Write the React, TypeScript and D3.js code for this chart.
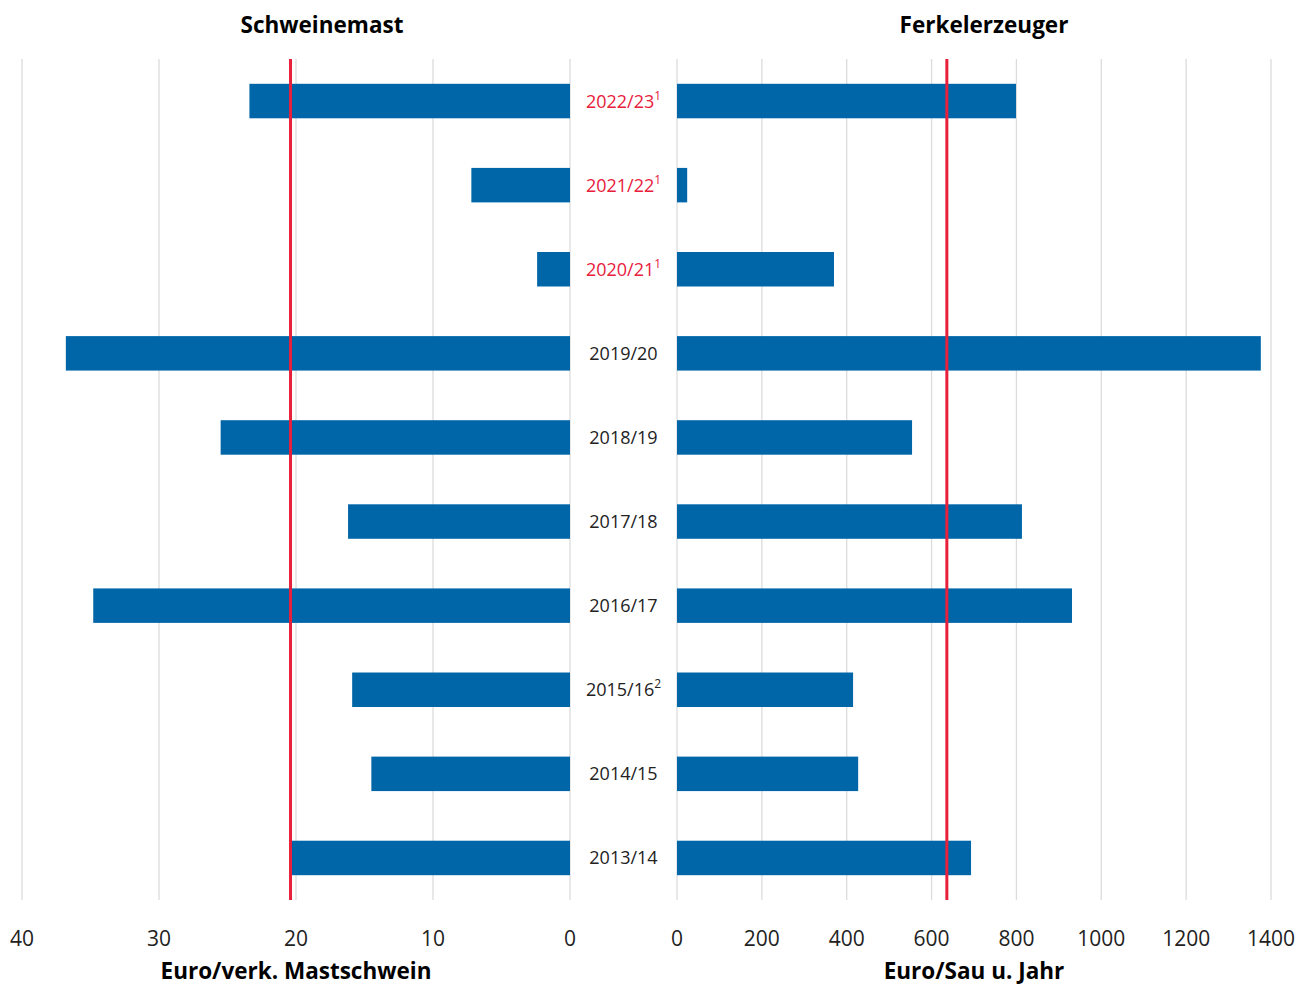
import * as d3 from 'd3'

// Wirtschaftsjahre, oben das jüngste
const years = ['2022/23', '2021/22', '2020/21', '2019/20', '2018/19', '2017/18', '2016/17', '2015/16', '2014/15', '2013/14']
const footnotes = ['1', '1', '1', '', '', '', '', '2', '', '']
const provisional = [true, true, true, false, false, false, false, false, false, false]

// Euro/verk. Mastschwein
const mastValues = [23.4, 7.2, 2.4, 36.8, 25.5, 16.2, 34.8, 15.9, 14.5, 20.3]
// Euro/Sau u. Jahr
const ferkelValues = [799, 24, 370, 1376, 554, 813, 931, 415, 427, 693]

const mastAverage = 20.4
const ferkelAverage = 636

const mastTicks = [40, 30, 20, 10, 0]
const ferkelTicks = [0, 200, 400, 600, 800, 1000, 1200, 1400]

const W = 1309
const H = 987
const top = 59
const bottom = 900

const blue = '#0066a8'
const red = '#e8203c'
const grid = '#dcdcdc'
const font = '"Open Sans", "Noto Sans", sans-serif'

export default function App() {
  const y = d3.scaleBand<string>().domain(years).range([top, bottom])
  const barH = y.step() * 0.41

  const xL = d3.scaleLinear().domain([40, 0]).range([22, 570])
  const xR = d3.scaleLinear().domain([0, 1400]).range([677, 1271])

  const cy = (d: string) => (y(d) as number) + y.bandwidth() / 2

  return (
    <svg width={W} height={H} viewBox={`0 0 ${W} ${H}`}
      style={{ position: 'absolute', left: 0, top: 0, background: '#fff', fontFamily: font }}>
      {/* Gitterlinien */}
      <g stroke={grid} strokeWidth={1.3}>
        {mastTicks.map(t => (
          <line key={'gl' + t} x1={xL(t)} x2={xL(t)} y1={top} y2={bottom} />
        ))}
        {ferkelTicks.map(t => (
          <line key={'gr' + t} x1={xR(t)} x2={xR(t)} y1={top} y2={bottom} />
        ))}
      </g>

      {/* Balken */}
      <g fill={blue}>
        {years.map((d, i) => (
          <rect key={'bl' + d} x={xL(mastValues[i])} width={xL(0) - xL(mastValues[i])}
            y={cy(d) - barH / 2} height={barH} />
        ))}
        {years.map((d, i) => (
          <rect key={'br' + d} x={xR(0)} width={xR(ferkelValues[i]) - xR(0)}
            y={cy(d) - barH / 2} height={barH} />
        ))}
      </g>

      {/* Durchschnittslinien */}
      <line x1={xL(mastAverage)} x2={xL(mastAverage)} y1={top} y2={bottom} stroke={red} strokeWidth={3} />
      <line x1={xR(ferkelAverage)} x2={xR(ferkelAverage)} y1={top} y2={bottom} stroke={red} strokeWidth={3} />

      {/* Jahresbeschriftung */}
      {years.map((d, i) => (
        <text key={'lab' + d} x={623.5} y={cy(d) + 6.5} textAnchor="middle" fontSize={18}
          fill={provisional[i] ? red : '#222'}>
          {d}
          {footnotes[i] && (
            <tspan fontSize={12} dy={-8}>{footnotes[i]}</tspan>
          )}
        </text>
      ))}

      {/* Achsenbeschriftung */}
      <g fontSize={21} fill="#222" textAnchor="middle">
        {mastTicks.map(t => (
          <text key={'tl' + t} x={xL(t)} y={946}>{t}</text>
        ))}
        {ferkelTicks.map(t => (
          <text key={'tr' + t} x={xR(t)} y={946}>{t}</text>
        ))}
      </g>

      <g fontSize={22.5} fontWeight="bold" fill="#000" textAnchor="middle">
        <text x={322} y={33}>Schweinemast</text>
        <text x={984} y={33}>Ferkelerzeuger</text>
        <text x={296} y={979}>Euro/verk. Mastschwein</text>
        <text x={974} y={979}>Euro/Sau u. Jahr</text>
      </g>
    </svg>
  )
}
